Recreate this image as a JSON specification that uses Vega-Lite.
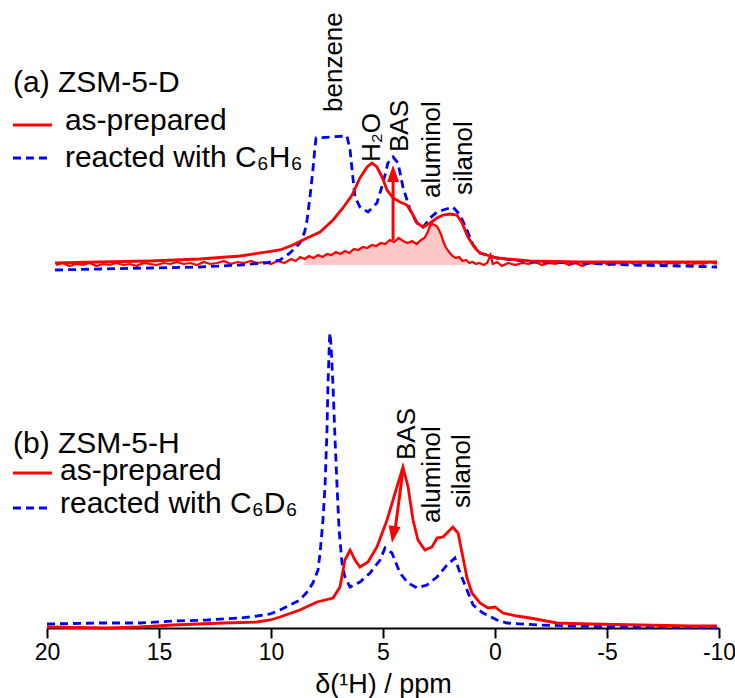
{
  "$schema": "https://vega.github.io/schema/vega-lite/v6.json",
  "autosize": {"type": "none"},
  "padding": {"left": 47, "top": 5, "right": 16, "bottom": 70},
  "width": 672,
  "height": 623,
  "background": "white",
  "config": {"view": {"stroke": null}},
  "datasets": {
    "spec": [
      {"p":"a","s":"blue","x":19.64,"y":10},{"p":"a","s":"blue","x":17.63,"y":11},{"p":"a","s":"blue","x":15.4,"y":12},{"p":"a","s":"blue","x":13.17,"y":13},{"p":"a","s":"blue","x":11.38,"y":15},{"p":"a","s":"blue","x":10.27,"y":17},{"p":"a","s":"blue","x":9.6,"y":20},{"p":"a","s":"blue","x":9.15,"y":27},{"p":"a","s":"blue","x":8.71,"y":37},{"p":"a","s":"blue","x":8.5,"y":48},{"p":"a","s":"blue","x":8.39,"y":60},{"p":"a","s":"blue","x":8.25,"y":85},{"p":"a","s":"blue","x":8.13,"y":110},{"p":"a","s":"blue","x":8.05,"y":130},{"p":"a","s":"blue","x":7.99,"y":142},{"p":"a","s":"blue","x":7.37,"y":143},{"p":"a","s":"blue","x":6.61,"y":144},{"p":"a","s":"blue","x":6.47,"y":130},{"p":"a","s":"blue","x":6.38,"y":110},{"p":"a","s":"blue","x":6.25,"y":83},{"p":"a","s":"blue","x":6.03,"y":73},{"p":"a","s":"blue","x":5.67,"y":68},{"p":"a","s":"blue","x":5.27,"y":77},{"p":"a","s":"blue","x":5.0,"y":97},{"p":"a","s":"blue","x":4.78,"y":117},{"p":"a","s":"blue","x":4.55,"y":123},{"p":"a","s":"blue","x":4.33,"y":117},{"p":"a","s":"blue","x":4.11,"y":93},{"p":"a","s":"blue","x":3.79,"y":70},{"p":"a","s":"blue","x":3.48,"y":57},{"p":"a","s":"blue","x":3.21,"y":53},{"p":"a","s":"blue","x":2.9,"y":62},{"p":"a","s":"blue","x":2.59,"y":68},{"p":"a","s":"blue","x":2.32,"y":70},{"p":"a","s":"blue","x":1.88,"y":73},{"p":"a","s":"blue","x":1.56,"y":65},{"p":"a","s":"blue","x":1.25,"y":50},{"p":"a","s":"blue","x":0.98,"y":35},{"p":"a","s":"blue","x":0.67,"y":27},{"p":"a","s":"blue","x":0.22,"y":24},{"p":"a","s":"blue","x":-0.09,"y":22},{"p":"a","s":"blue","x":-1.56,"y":18},{"p":"a","s":"blue","x":-3.79,"y":17},{"p":"a","s":"blue","x":-6.03,"y":15},{"p":"a","s":"blue","x":-8.26,"y":14},{"p":"a","s":"blue","x":-9.91,"y":13},
      {"p":"a","s":"red","x":19.64,"y":17},{"p":"a","s":"red","x":17.63,"y":18},{"p":"a","s":"red","x":15.4,"y":19},{"p":"a","s":"red","x":13.17,"y":21},{"p":"a","s":"red","x":11.38,"y":24},{"p":"a","s":"red","x":9.6,"y":30},{"p":"a","s":"red","x":9.02,"y":35},{"p":"a","s":"red","x":8.39,"y":42},{"p":"a","s":"red","x":7.81,"y":48},{"p":"a","s":"red","x":7.23,"y":60},{"p":"a","s":"red","x":6.79,"y":72},{"p":"a","s":"red","x":6.38,"y":85},{"p":"a","s":"red","x":6.03,"y":102},{"p":"a","s":"red","x":5.71,"y":113},{"p":"a","s":"red","x":5.49,"y":117},{"p":"a","s":"red","x":5.27,"y":113},{"p":"a","s":"red","x":5.04,"y":103},{"p":"a","s":"red","x":4.82,"y":90},{"p":"a","s":"red","x":4.55,"y":82},{"p":"a","s":"red","x":4.24,"y":78},{"p":"a","s":"red","x":3.93,"y":75},{"p":"a","s":"red","x":3.71,"y":67},{"p":"a","s":"red","x":3.48,"y":57},{"p":"a","s":"red","x":3.21,"y":53},{"p":"a","s":"red","x":2.9,"y":57},{"p":"a","s":"red","x":2.59,"y":62},{"p":"a","s":"red","x":2.32,"y":65},{"p":"a","s":"red","x":2.01,"y":66},{"p":"a","s":"red","x":1.7,"y":65},{"p":"a","s":"red","x":1.47,"y":57},{"p":"a","s":"red","x":1.21,"y":43},{"p":"a","s":"red","x":0.89,"y":32},{"p":"a","s":"red","x":0.67,"y":27},{"p":"a","s":"red","x":0.22,"y":24},{"p":"a","s":"red","x":-0.09,"y":22},{"p":"a","s":"red","x":-1.56,"y":19},{"p":"a","s":"red","x":-3.79,"y":18},{"p":"a","s":"red","x":-6.03,"y":18},{"p":"a","s":"red","x":-8.26,"y":18},{"p":"a","s":"red","x":-9.91,"y":18},
      {"p":"a","s":"diff","x":19.6,"y":15},{"p":"a","s":"diff","x":19.3,"y":17},{"p":"a","s":"diff","x":19.0,"y":14},{"p":"a","s":"diff","x":18.7,"y":16},{"p":"a","s":"diff","x":18.4,"y":15},{"p":"a","s":"diff","x":18.1,"y":17},{"p":"a","s":"diff","x":17.8,"y":14},{"p":"a","s":"diff","x":17.5,"y":16},{"p":"a","s":"diff","x":17.2,"y":15},{"p":"a","s":"diff","x":16.9,"y":17},{"p":"a","s":"diff","x":16.6,"y":15},{"p":"a","s":"diff","x":16.3,"y":16},{"p":"a","s":"diff","x":16.0,"y":14},{"p":"a","s":"diff","x":15.7,"y":17},{"p":"a","s":"diff","x":15.4,"y":16},{"p":"a","s":"diff","x":15.1,"y":15},{"p":"a","s":"diff","x":14.8,"y":17},{"p":"a","s":"diff","x":14.5,"y":16},{"p":"a","s":"diff","x":14.2,"y":18},{"p":"a","s":"diff","x":13.9,"y":16},{"p":"a","s":"diff","x":13.6,"y":17},{"p":"a","s":"diff","x":13.3,"y":15},{"p":"a","s":"diff","x":13.0,"y":18},{"p":"a","s":"diff","x":12.7,"y":16},{"p":"a","s":"diff","x":12.4,"y":17},{"p":"a","s":"diff","x":12.1,"y":19},{"p":"a","s":"diff","x":11.8,"y":16},{"p":"a","s":"diff","x":11.5,"y":18},{"p":"a","s":"diff","x":11.2,"y":17},{"p":"a","s":"diff","x":10.9,"y":19},{"p":"a","s":"diff","x":10.6,"y":17},{"p":"a","s":"diff","x":10.3,"y":18},{"p":"a","s":"diff","x":10.0,"y":16},{"p":"a","s":"diff","x":9.7,"y":19},{"p":"a","s":"diff","x":9.4,"y":17},{"p":"a","s":"diff","x":9.1,"y":21},{"p":"a","s":"diff","x":8.9,"y":19},{"p":"a","s":"diff","x":8.7,"y":23},{"p":"a","s":"diff","x":8.5,"y":21},{"p":"a","s":"diff","x":8.3,"y":24},{"p":"a","s":"diff","x":8.1,"y":22},{"p":"a","s":"diff","x":7.9,"y":25},{"p":"a","s":"diff","x":7.7,"y":23},{"p":"a","s":"diff","x":7.5,"y":26},{"p":"a","s":"diff","x":7.3,"y":25},{"p":"a","s":"diff","x":7.1,"y":28},{"p":"a","s":"diff","x":6.9,"y":26},{"p":"a","s":"diff","x":6.7,"y":29},{"p":"a","s":"diff","x":6.5,"y":27},{"p":"a","s":"diff","x":6.3,"y":31},{"p":"a","s":"diff","x":6.1,"y":30},{"p":"a","s":"diff","x":5.9,"y":33},{"p":"a","s":"diff","x":5.7,"y":32},{"p":"a","s":"diff","x":5.5,"y":35},{"p":"a","s":"diff","x":5.3,"y":34},{"p":"a","s":"diff","x":5.1,"y":37},{"p":"a","s":"diff","x":4.9,"y":36},{"p":"a","s":"diff","x":4.7,"y":40},{"p":"a","s":"diff","x":4.5,"y":38},{"p":"a","s":"diff","x":4.3,"y":42},{"p":"a","s":"diff","x":4.1,"y":39},{"p":"a","s":"diff","x":3.9,"y":37},{"p":"a","s":"diff","x":3.7,"y":39},{"p":"a","s":"diff","x":3.5,"y":36},{"p":"a","s":"diff","x":3.3,"y":40},{"p":"a","s":"diff","x":3.15,"y":42},{"p":"a","s":"diff","x":3.0,"y":48},{"p":"a","s":"diff","x":2.9,"y":54},{"p":"a","s":"diff","x":2.8,"y":56},{"p":"a","s":"diff","x":2.7,"y":55},{"p":"a","s":"diff","x":2.6,"y":54},{"p":"a","s":"diff","x":2.5,"y":50},{"p":"a","s":"diff","x":2.4,"y":45},{"p":"a","s":"diff","x":2.3,"y":38},{"p":"a","s":"diff","x":2.2,"y":33},{"p":"a","s":"diff","x":2.05,"y":28},{"p":"a","s":"diff","x":1.9,"y":24},{"p":"a","s":"diff","x":1.75,"y":22},{"p":"a","s":"diff","x":1.6,"y":23},{"p":"a","s":"diff","x":1.45,"y":19},{"p":"a","s":"diff","x":1.3,"y":20},{"p":"a","s":"diff","x":1.15,"y":17},{"p":"a","s":"diff","x":1.0,"y":18},{"p":"a","s":"diff","x":0.85,"y":16},{"p":"a","s":"diff","x":0.7,"y":17},{"p":"a","s":"diff","x":0.5,"y":15},{"p":"a","s":"diff","x":0.35,"y":17},{"p":"a","s":"diff","x":0.2,"y":25},{"p":"a","s":"diff","x":0.1,"y":16},{"p":"a","s":"diff","x":-0.1,"y":18},{"p":"a","s":"diff","x":-0.3,"y":14},{"p":"a","s":"diff","x":-0.6,"y":17},{"p":"a","s":"diff","x":-0.9,"y":15},{"p":"a","s":"diff","x":-1.2,"y":17},{"p":"a","s":"diff","x":-1.5,"y":16},{"p":"a","s":"diff","x":-1.8,"y":18},{"p":"a","s":"diff","x":-2.1,"y":15},{"p":"a","s":"diff","x":-2.4,"y":17},{"p":"a","s":"diff","x":-2.7,"y":16},{"p":"a","s":"diff","x":-3.0,"y":18},{"p":"a","s":"diff","x":-3.3,"y":15},{"p":"a","s":"diff","x":-3.6,"y":17},{"p":"a","s":"diff","x":-3.9,"y":14},{"p":"a","s":"diff","x":-4.2,"y":17},{"p":"a","s":"diff","x":-4.5,"y":16},{"p":"a","s":"diff","x":-4.8,"y":18},{"p":"a","s":"diff","x":-5.1,"y":15},{"p":"a","s":"diff","x":-5.4,"y":17},{"p":"a","s":"diff","x":-5.7,"y":16},{"p":"a","s":"diff","x":-6.0,"y":18},{"p":"a","s":"diff","x":-6.3,"y":15},{"p":"a","s":"diff","x":-6.6,"y":17},{"p":"a","s":"diff","x":-6.9,"y":16},{"p":"a","s":"diff","x":-7.2,"y":18},{"p":"a","s":"diff","x":-7.5,"y":15},{"p":"a","s":"diff","x":-7.8,"y":17},{"p":"a","s":"diff","x":-8.1,"y":16},{"p":"a","s":"diff","x":-8.4,"y":18},{"p":"a","s":"diff","x":-8.7,"y":15},{"p":"a","s":"diff","x":-9.0,"y":17},{"p":"a","s":"diff","x":-9.3,"y":16},{"p":"a","s":"diff","x":-9.6,"y":18},{"p":"a","s":"diff","x":-9.9,"y":16},
      {"p":"b","s":"blue","x":20.0,"y":4},{"p":"b","s":"blue","x":17.63,"y":5},{"p":"b","s":"blue","x":15.85,"y":5},{"p":"b","s":"blue","x":14.29,"y":7},{"p":"b","s":"blue","x":12.86,"y":8},{"p":"b","s":"blue","x":11.38,"y":10},{"p":"b","s":"blue","x":10.63,"y":12},{"p":"b","s":"blue","x":10.04,"y":14},{"p":"b","s":"blue","x":9.6,"y":18},{"p":"b","s":"blue","x":9.15,"y":23},{"p":"b","s":"blue","x":8.71,"y":28},{"p":"b","s":"blue","x":8.39,"y":36},{"p":"b","s":"blue","x":8.13,"y":45},{"p":"b","s":"blue","x":7.9,"y":58},{"p":"b","s":"blue","x":7.81,"y":75},{"p":"b","s":"blue","x":7.68,"y":108},{"p":"b","s":"blue","x":7.59,"y":141},{"p":"b","s":"blue","x":7.5,"y":198},{"p":"b","s":"blue","x":7.46,"y":241},{"p":"b","s":"blue","x":7.39,"y":288},{"p":"b","s":"blue","x":7.37,"y":295},{"p":"b","s":"blue","x":7.32,"y":283},{"p":"b","s":"blue","x":7.23,"y":241},{"p":"b","s":"blue","x":7.14,"y":188},{"p":"b","s":"blue","x":7.05,"y":141},{"p":"b","s":"blue","x":6.96,"y":98},{"p":"b","s":"blue","x":6.83,"y":65},{"p":"b","s":"blue","x":6.7,"y":51},{"p":"b","s":"blue","x":6.47,"y":41},{"p":"b","s":"blue","x":6.03,"y":46},{"p":"b","s":"blue","x":5.58,"y":55},{"p":"b","s":"blue","x":5.13,"y":68},{"p":"b","s":"blue","x":4.91,"y":80},{"p":"b","s":"blue","x":4.6,"y":75},{"p":"b","s":"blue","x":4.24,"y":55},{"p":"b","s":"blue","x":3.88,"y":45},{"p":"b","s":"blue","x":3.48,"y":40},{"p":"b","s":"blue","x":3.04,"y":43},{"p":"b","s":"blue","x":2.59,"y":51},{"p":"b","s":"blue","x":2.14,"y":63},{"p":"b","s":"blue","x":1.79,"y":70},{"p":"b","s":"blue","x":1.56,"y":55},{"p":"b","s":"blue","x":1.25,"y":38},{"p":"b","s":"blue","x":0.98,"y":23},{"p":"b","s":"blue","x":0.54,"y":15},{"p":"b","s":"blue","x":-0.09,"y":8},{"p":"b","s":"blue","x":-0.54,"y":5},{"p":"b","s":"blue","x":-2.01,"y":3},{"p":"b","s":"blue","x":-3.48,"y":2},{"p":"b","s":"blue","x":-5.71,"y":1},{"p":"b","s":"blue","x":-7.95,"y":1},{"p":"b","s":"blue","x":-9.91,"y":0},
      {"p":"b","s":"red","x":20.0,"y":1},{"p":"b","s":"red","x":17.32,"y":0},{"p":"b","s":"red","x":15.85,"y":1},{"p":"b","s":"red","x":14.38,"y":3},{"p":"b","s":"red","x":12.14,"y":5},{"p":"b","s":"red","x":10.63,"y":6},{"p":"b","s":"red","x":10.04,"y":8},{"p":"b","s":"red","x":9.6,"y":11},{"p":"b","s":"red","x":8.71,"y":18},{"p":"b","s":"red","x":7.95,"y":26},{"p":"b","s":"red","x":7.23,"y":30},{"p":"b","s":"red","x":6.92,"y":41},{"p":"b","s":"red","x":6.7,"y":68},{"p":"b","s":"red","x":6.47,"y":78},{"p":"b","s":"red","x":6.25,"y":68},{"p":"b","s":"red","x":6.03,"y":61},{"p":"b","s":"red","x":5.67,"y":66},{"p":"b","s":"red","x":5.27,"y":81},{"p":"b","s":"red","x":4.82,"y":108},{"p":"b","s":"red","x":4.46,"y":135},{"p":"b","s":"red","x":4.24,"y":151},{"p":"b","s":"red","x":4.11,"y":161},{"p":"b","s":"red","x":3.88,"y":141},{"p":"b","s":"red","x":3.66,"y":108},{"p":"b","s":"red","x":3.44,"y":88},{"p":"b","s":"red","x":3.13,"y":78},{"p":"b","s":"red","x":2.81,"y":81},{"p":"b","s":"red","x":2.59,"y":90},{"p":"b","s":"red","x":2.32,"y":91},{"p":"b","s":"red","x":2.1,"y":96},{"p":"b","s":"red","x":1.88,"y":101},{"p":"b","s":"red","x":1.65,"y":95},{"p":"b","s":"red","x":1.47,"y":75},{"p":"b","s":"red","x":1.25,"y":50},{"p":"b","s":"red","x":1.03,"y":35},{"p":"b","s":"red","x":0.67,"y":25},{"p":"b","s":"red","x":0.31,"y":20},{"p":"b","s":"red","x":0.0,"y":21},{"p":"b","s":"red","x":-0.36,"y":15},{"p":"b","s":"red","x":-0.98,"y":12},{"p":"b","s":"red","x":-1.56,"y":10},{"p":"b","s":"red","x":-2.77,"y":5},{"p":"b","s":"red","x":-4.24,"y":4},{"p":"b","s":"red","x":-6.47,"y":3},{"p":"b","s":"red","x":-8.71,"y":2},{"p":"b","s":"red","x":-9.91,"y":2}
    ],
    "legtext": [
      {"p":"a","t":"(a) ZSM-5-D","x":21.52,"y":188},
      {"p":"a","t":"as-prepared","x":19.2,"y":150},
      {"p":"a","t":"reacted with C₆H₆","x":19.2,"y":113},
      {"p":"b","t":"(b) ZSM-5-H","x":21.52,"y":175},
      {"p":"b","t":"as-prepared","x":19.42,"y":148},
      {"p":"b","t":"reacted with C₆D₆","x":19.42,"y":115}
    ],
    "leglines": [
      {"p":"a","s":"as-prepared","x":21.52,"x2":19.78,"y":155},
      {"p":"a","s":"reacted","x":21.52,"x2":19.78,"y":122},
      {"p":"b","s":"as-prepared","x":21.52,"x2":19.78,"y":155},
      {"p":"b","s":"reacted","x":21.52,"x2":19.78,"y":120}
    ],
    "peaklabels": [
      {"p":"a","t":"benzene","x":6.83,"y":168},
      {"p":"a","t":"H₂O","x":5.13,"y":118},
      {"p":"a","t":"BAS","x":3.88,"y":128},
      {"p":"a","t":"aluminol","x":2.46,"y":82},
      {"p":"a","t":"silanol","x":1.03,"y":85},
      {"p":"b","t":"BAS","x":3.57,"y":168},
      {"p":"b","t":"aluminol","x":2.46,"y":105},
      {"p":"b","t":"silanol","x":1.12,"y":120}
    ],
    "arrows": [
      {"p":"a","x":4.55,"x2":4.55,"y":40,"y2":100},
      {"p":"b","x":4.11,"x2":4.46,"y":158,"y2":98}
    ],
    "heads": [
      {"p":"a","x":4.55,"y":105},
      {"p":"b","x":4.53,"y":95}
    ]
  },
  "encoding": {
    "x": {"field": "x", "type": "quantitative", "scale": {"domain": [-10, 20], "reverse": true, "nice": false, "zero": false},
      "axis": {"values": [20, 15, 10, 5, 0, -5, -10], "labelExpr": "'' + datum.value", "title": "δ(¹H) / ppm", "grid": false,
        "domainColor": "black", "domainWidth": 2, "tickColor": "black", "tickWidth": 2, "tickSize": 10,
        "labelFont": "Liberation Sans", "labelFontSize": 23, "labelColor": "black", "labelPadding": 3, "labelFlush": false,
        "titleFont": "Liberation Sans", "titleFontSize": 27, "titleFontWeight": "normal", "titleColor": "black", "titlePadding": 7}}
  },
  "layer": [
    {
      "encoding": {
        "y": {"field": "y", "type": "quantitative", "scale": {"domain": [-348, 275], "nice": false, "zero": false}, "axis": null}
      },
      "layer": [
        {"data": {"name": "spec"}, "transform": [{"filter": "datum.p == 'a' && datum.s == 'diff' && datum.x <= 8.5 && datum.x >= 1.3"}],
         "mark": {"type": "area", "color": "#ffc8c8", "opacity": 1}, "encoding": {"y2": {"datum": 15}}},
        {"data": {"name": "spec"}, "transform": [{"filter": "datum.p == 'a' && datum.s == 'diff'"}],
         "mark": {"type": "line", "color": "#ff0000", "strokeWidth": 2.2}},
        {"data": {"name": "spec"}, "transform": [{"filter": "datum.p == 'a' && datum.s == 'blue'"}],
         "mark": {"type": "line", "color": "#0000ff", "strokeWidth": 2.8, "strokeDash": [8, 5]}},
        {"data": {"name": "spec"}, "transform": [{"filter": "datum.p == 'a' && datum.s == 'red'"}],
         "mark": {"type": "line", "color": "#ff0000", "strokeWidth": 2.8}},
        {"data": {"name": "arrows"}, "transform": [{"filter": "datum.p == 'a'"}],
         "mark": {"type": "rule", "color": "#ff0000", "strokeWidth": 3}, "encoding": {"x2": {"field": "x2"}, "y2": {"field": "y2"}}},
        {"data": {"name": "heads"}, "transform": [{"filter": "datum.p == 'a'"}],
         "mark": {"type": "point", "shape": "M0,-1L-0.6,0.7L0.6,0.7Z", "filled": true, "color": "#ff0000", "opacity": 1, "size": 400, "angle": 0}},
        {"data": {"name": "leglines"}, "transform": [{"filter": "datum.p == 'a'"}],
         "mark": {"type": "rule", "strokeWidth": 2.8},
         "encoding": {"x2": {"field": "x2"},
           "color": {"field": "s", "type": "nominal", "scale": {"domain": ["as-prepared", "reacted"], "range": ["#ff0000", "#0000ff"]}, "legend": null},
           "strokeDash": {"field": "s", "type": "nominal", "scale": {"domain": ["as-prepared", "reacted"], "range": [[1, 0], [8, 5]]}, "legend": null}}},
        {"data": {"name": "legtext"}, "transform": [{"filter": "datum.p == 'a'"}],
         "mark": {"type": "text", "align": "left", "baseline": "alphabetic", "font": "Liberation Sans", "fontSize": 30, "color": "black"},
         "encoding": {"text": {"field": "t"}}},
        {"data": {"name": "peaklabels"}, "transform": [{"filter": "datum.p == 'a'"}],
         "mark": {"type": "text", "align": "left", "baseline": "alphabetic", "angle": 270, "font": "Liberation Sans", "fontSize": 26, "color": "black"},
         "encoding": {"text": {"field": "t"}}}
      ]
    },
    {
      "encoding": {
        "y": {"field": "y", "type": "quantitative", "scale": {"domain": [0, 623], "nice": false, "zero": false}, "axis": null}
      },
      "layer": [
        {"data": {"name": "spec"}, "transform": [{"filter": "datum.p == 'b' && datum.s == 'blue'"}],
         "mark": {"type": "line", "color": "#0000ff", "strokeWidth": 2.8, "strokeDash": [8, 5]}},
        {"data": {"name": "spec"}, "transform": [{"filter": "datum.p == 'b' && datum.s == 'red'"}],
         "mark": {"type": "line", "color": "#ff0000", "strokeWidth": 2.8}},
        {"data": {"name": "arrows"}, "transform": [{"filter": "datum.p == 'b'"}],
         "mark": {"type": "rule", "color": "#ff0000", "strokeWidth": 3}, "encoding": {"x2": {"field": "x2"}, "y2": {"field": "y2"}}},
        {"data": {"name": "heads"}, "transform": [{"filter": "datum.p == 'b'"}],
         "mark": {"type": "point", "shape": "M0,-1L-0.6,0.7L0.6,0.7Z", "filled": true, "color": "#ff0000", "opacity": 1, "size": 400, "angle": 189}},
        {"data": {"name": "leglines"}, "transform": [{"filter": "datum.p == 'b'"}],
         "mark": {"type": "rule", "strokeWidth": 2.8},
         "encoding": {"x2": {"field": "x2"},
           "color": {"field": "s", "type": "nominal", "scale": {"domain": ["as-prepared", "reacted"], "range": ["#ff0000", "#0000ff"]}, "legend": null},
           "strokeDash": {"field": "s", "type": "nominal", "scale": {"domain": ["as-prepared", "reacted"], "range": [[1, 0], [8, 5]]}, "legend": null}}},
        {"data": {"name": "legtext"}, "transform": [{"filter": "datum.p == 'b'"}],
         "mark": {"type": "text", "align": "left", "baseline": "alphabetic", "font": "Liberation Sans", "fontSize": 30, "color": "black"},
         "encoding": {"text": {"field": "t"}}},
        {"data": {"name": "peaklabels"}, "transform": [{"filter": "datum.p == 'b'"}],
         "mark": {"type": "text", "align": "left", "baseline": "alphabetic", "angle": 270, "font": "Liberation Sans", "fontSize": 26, "color": "black"},
         "encoding": {"text": {"field": "t"}}}
      ]
    }
  ],
  "resolve": {"scale": {"y": "independent"}}
}
